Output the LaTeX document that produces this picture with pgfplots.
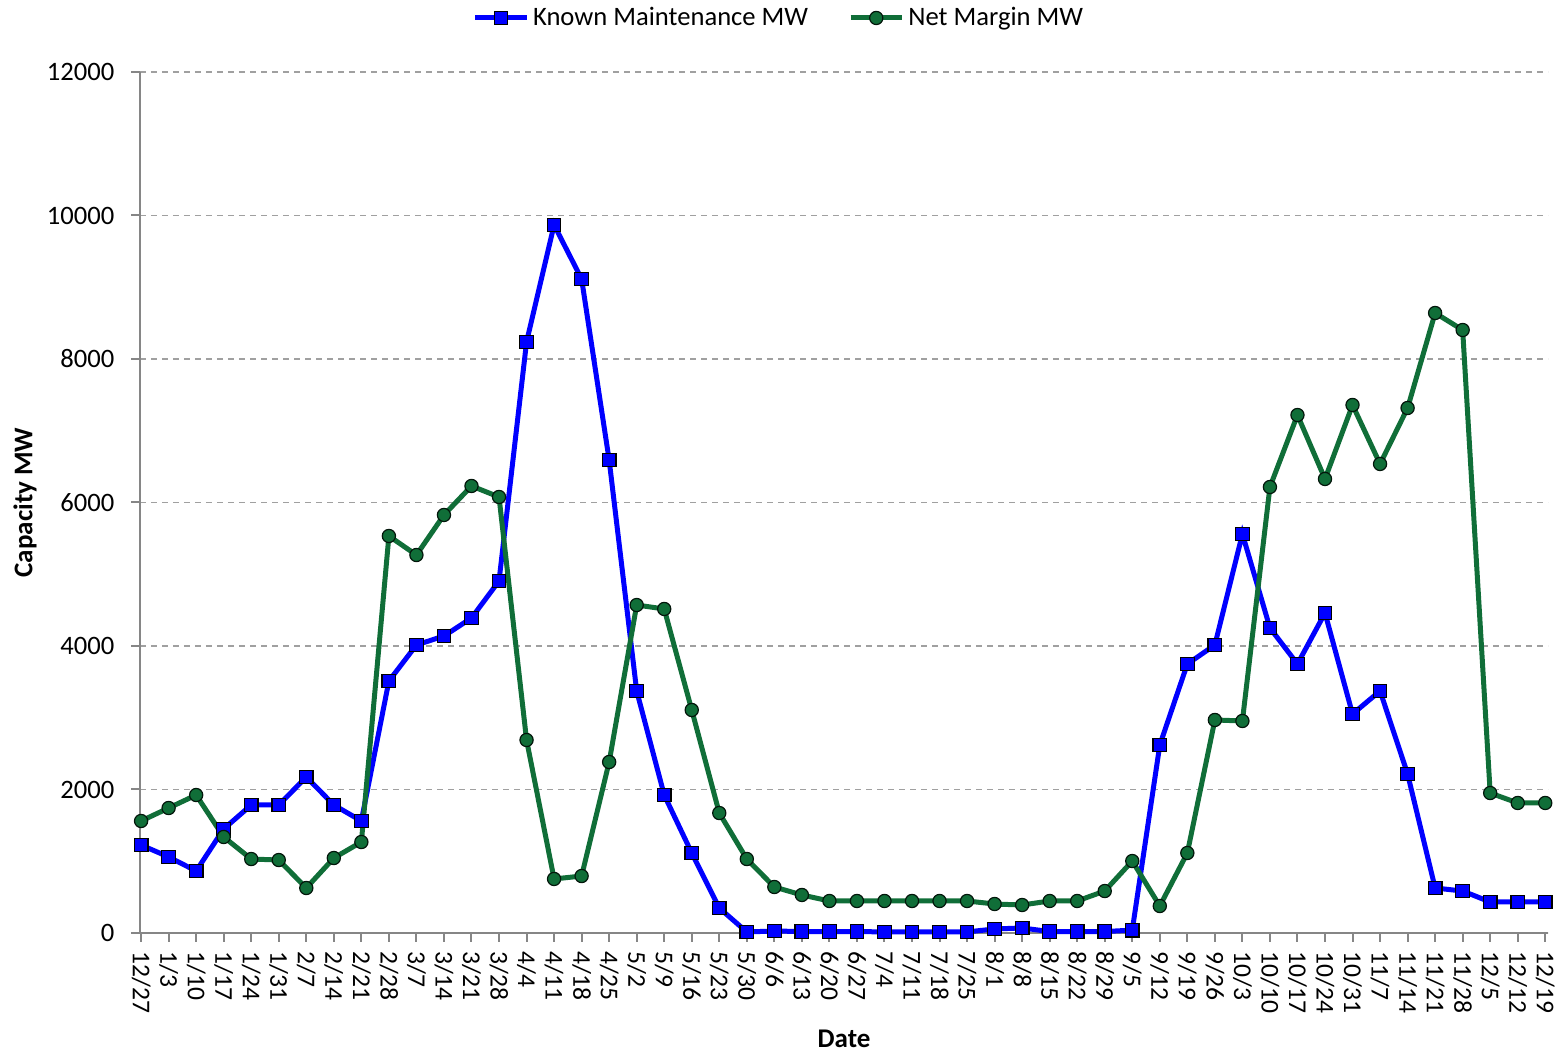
\documentclass[border=0pt]{standalone}
\usepackage{pgfplots}
\pgfplotsset{compat=1.18}
\usepackage{pgfplotstable}
\usepackage{fontspec}
\setmainfont{Carlito}
\definecolor{kmblue}{RGB}{0,0,255}
\definecolor{nmgreen}{RGB}{16,110,56}
\definecolor{axgray}{RGB}{134,134,134}
\definecolor{gridgray}{RGB}{160,160,160}

\pgfplotstableread{
i km nm
0 1226 1561
1 1060 1742
2 864 1923
3 1450 1338
4 1784 1031
5 1784 1017
6 2174 627
7 1784 1045
8 1561 1268
9 3512 5533
10 4014 5268
11 4139 5826
12 4390 6230
13 4906 6077
14 8237 2690
15 9868 753
16 9115 794
17 6592 2383
18 3373 4571
19 1923 4516
20 1115 3108
21 348 1672
22 14 1031
23 28 641
24 20 530
25 20 446
26 20 446
27 15 446
28 15 446
29 15 446
30 15 446
31 56 404
32 70 390
33 20 446
34 20 446
35 20 585
36 40 1003
37 2620 376
38 3749 1115
39 4014 2969
40 5561 2955
41 4251 6216
42 3749 7219
43 4460 6328
44 3052 7359
45 3373 6537
46 2216 7317
47 627 8641
48 585 8404
49 432 1951
50 432 1812
51 432 1812
}\datatable

\begin{document}
\begin{tikzpicture}
\useasboundingbox (-70pt,-60pt) rectangle (712pt,466.5pt);
\begin{axis}[
  at={(0,0)}, anchor=south west,
  scale only axis, width=704pt, height=430.5pt,
  xmin=-0.04, xmax=51.1, ymin=0, ymax=12000,
  clip=false,
  axis x line*=bottom, axis y line*=left,
  axis line style={axgray, line width=1.2pt, -},
  xtick=data,
  xticklabels={12/27,1/3,1/10,1/17,1/24,1/31,2/7,2/14,2/21,2/28,3/7,3/14,3/21,3/28,4/4,4/11,4/18,4/25,5/2,5/9,5/16,5/23,5/30,6/6,6/13,6/20,6/27,7/4,7/11,7/18,7/25,8/1,8/8,8/15,8/22,8/29,9/5,9/12,9/19,9/26,10/3,10/10,10/17,10/24,10/31,11/7,11/14,11/21,11/28,12/5,12/12,12/19},
  xticklabel style={rotate=-90, anchor=west, font=\fontsize{12.8}{15}\selectfont, inner sep=1pt, xshift=4pt},
  ytick={0,2000,4000,6000,8000,10000,12000},
  scaled y ticks=false,
  yticklabel style={font=\fontsize{13.3}{15}\selectfont, xshift=-5pt},
  /pgf/number format/1000 sep={},
  /pgf/number format/assume math mode=true,
  tick align=outside,
  major tick length=4.3pt,
  tick style={axgray, line width=1pt},
  ymajorgrids,
  grid style={gridgray, dash pattern=on 3pt off 2.5pt, line width=0.6pt},
  xlabel={\textbf{Date}},
  ylabel={\textbf{Capacity MW}},
  xlabel style={font=\fontsize{13.5}{15}\selectfont, at={(0.5,0)}, anchor=north, yshift=-45pt},
  ylabel style={font=\fontsize{13.5}{15}\selectfont, at={(rel axis cs:-0.0817,0.5)}, anchor=center},
  legend columns=2,
  legend style={draw=none, at={(0.4545,1)}, anchor=center, yshift=27pt,
    font=\fontsize{13.3}{15}\selectfont,
    /tikz/every even column/.append style={column sep=18pt}},
  legend image code/.code={%
    \draw[#1, mark repeat=2, mark phase=2] plot coordinates {(0cm,0cm) (0.45cm,0cm) (0.9cm,0cm)};},
]
\addplot[kmblue, line width=2.5pt, mark=square*, mark size=3.4pt,
  mark options={fill=kmblue, draw=black, line width=0.6pt}] table[x=i, y=km] {\datatable};
\addlegendentry{Known Maintenance MW}
\addplot[nmgreen, line width=2.5pt, mark=*, mark size=3.3pt,
  mark options={fill=nmgreen, draw=black!80!nmgreen, line width=0.6pt}] table[x=i, y=nm] {\datatable};
\addlegendentry{Net Margin MW}
\end{axis}
\end{tikzpicture}
\end{document}
